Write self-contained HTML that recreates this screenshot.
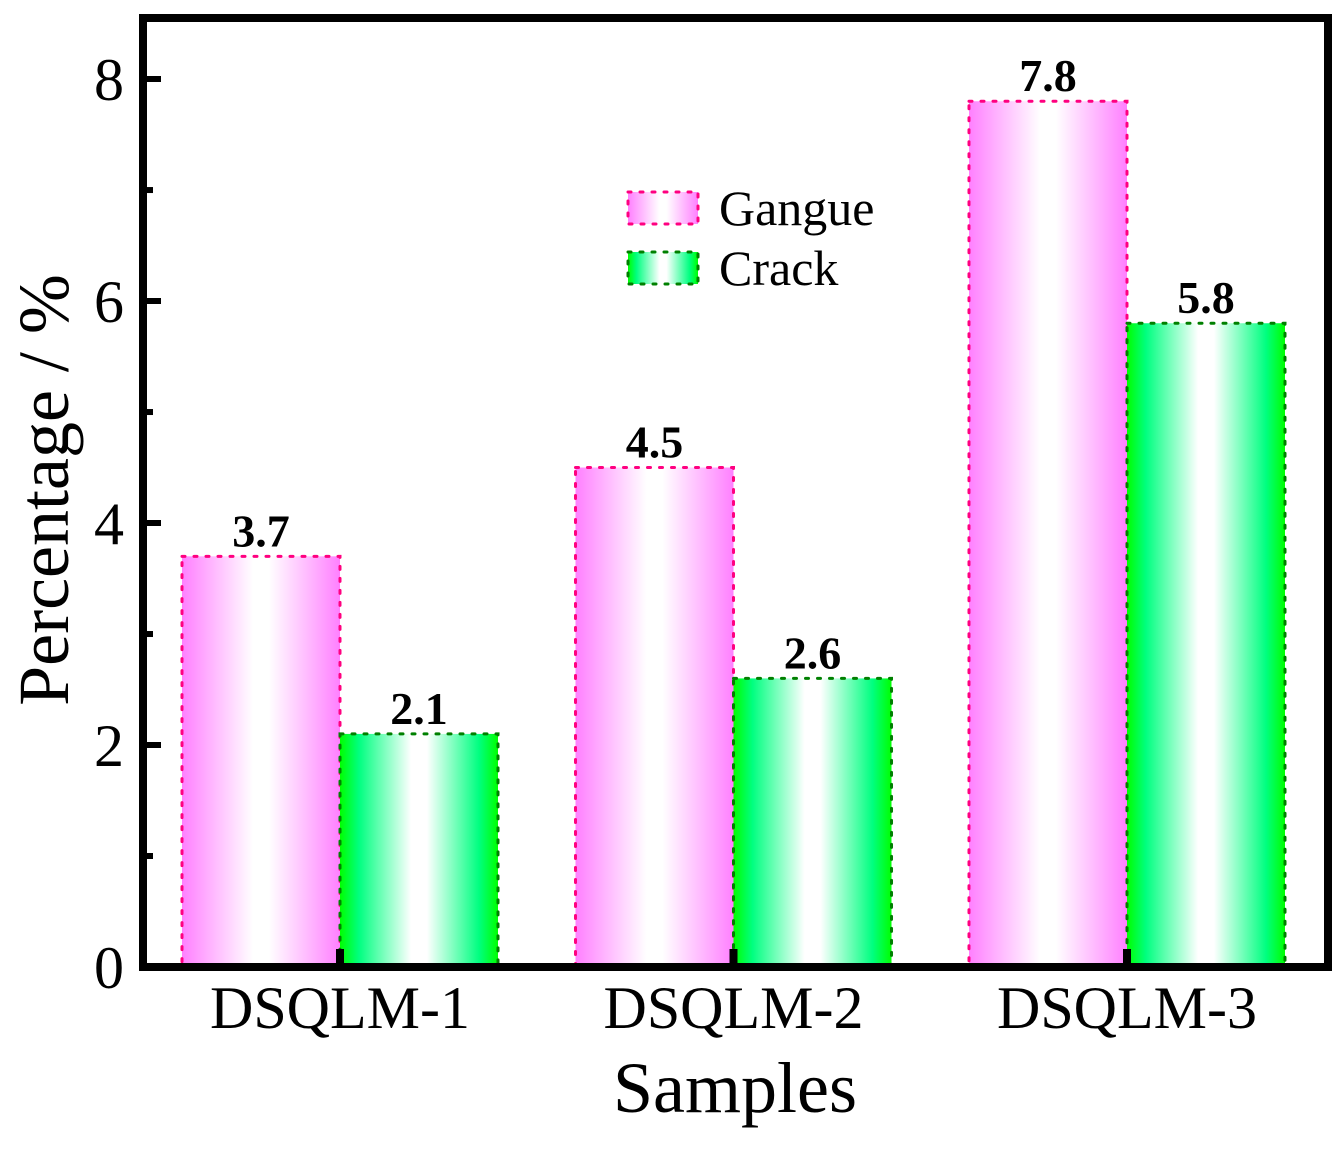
<!DOCTYPE html>
<html><head><meta charset="utf-8"><style>
body{margin:0;background:#fff}
svg{display:block;font-family:"Liberation Serif",serif}
text{font-family:"Liberation Serif",serif}
</style></head><body>
<svg id="c" width="1342" height="1149" viewBox="0 0 1342 1149" font-family="Liberation Serif, serif">
<defs>
<linearGradient id="gp" x1="0" x2="1"><stop offset="0" stop-color="#ff80ff"/><stop offset="0.45" stop-color="#fff"/><stop offset="0.55" stop-color="#fff"/><stop offset="1" stop-color="#ff80ff"/></linearGradient>
<linearGradient id="gg" x1="0" x2="1"><stop offset="0" stop-color="#00ff00"/><stop offset="0.12" stop-color="#00ff80"/><stop offset="0.45" stop-color="#fff"/><stop offset="0.55" stop-color="#fff"/><stop offset="0.88" stop-color="#00ff80"/><stop offset="1" stop-color="#00ff00"/></linearGradient>
</defs>
<g id="bars"></g>
<g id="axes"></g>
</svg>
<script>
const categories=["DSQLM-1","DSQLM-2","DSQLM-3"];
const gangue=[3.7,4.5,7.8];
const crack=[2.1,2.6,5.8];
const yTicks=[0,2,4,6,8];
const NS="http://www.w3.org/2000/svg";
const L=143,R=1328,T=18,B=967,yMax=8.55;
const y=v=>B-(v/yMax)*(B-T);
const cx=i=>340+i*393.5;
const bw=158;
function mk(t,a,p){const e=document.createElementNS(NS,t);for(const k in a)e.setAttribute(k,a[k]);if(t==='text')e.setAttribute('font-family','Liberation Serif, serif');(p||document.getElementById('c')).appendChild(e);return e;}
const bars=document.getElementById('bars'),axes=document.getElementById('axes');
categories.forEach((c,i)=>{
 [[gangue,'url(#gp)','#ff0080',-1,'gangue'],[crack,'url(#gg)','#008000',0,'crack']].forEach(s=>{
  const v=s[0][i],x=cx(i)+s[3]*bw;
  const r=mk('rect',{x:x,y:y(v),width:bw,height:B-y(v),fill:s[1],stroke:s[2],'stroke-width':3,'stroke-dasharray':'3 9','stroke-linecap':'round'},bars);
  
  
  const t=mk('text',{x:x+bw/2,y:y(v)-10,'text-anchor':'middle','font-size':46,'font-weight':'bold'},bars);
  t.textContent=v.toFixed(1);
  
  
 });
 const tk=mk('rect',{x:cx(i)-4,y:B-18,width:8,height:18,fill:'#000'},axes);
 
 
 const lb=mk('text',{x:cx(i),y:1028,'text-anchor':'middle','font-size':60},axes);
 lb.textContent=c;
 
 
});
const fr=mk('rect',{x:L,y:T,width:R-L,height:B-T,fill:'none',stroke:'#000','stroke-width':8},axes);


for(let v=0;v<=8;v+=1){
 const major=v%2===0;
 const l=mk('line',{x1:L,x2:L+(major?18:10),y1:y(v),y2:y(v),stroke:'#000','stroke-width':6},axes);
 
 
}
yTicks.forEach(v=>{
 const t=mk('text',{x:124,y:y(v)+21,'text-anchor':'end','font-size':60},axes);
 t.textContent=v;
 
 
});
const xt=mk('text',{x:735,y:1112,'text-anchor':'middle','font-size':72},axes);
xt.textContent='Samples';


const yt=mk('text',{x:0,y:0,'text-anchor':'middle','font-size':72,transform:'translate(68,490) rotate(-90)'},axes);
yt.textContent='Percentage / %';


[['Gangue','url(#gp)','#ff0080',208],['Crack','url(#gg)','#008000',268]].forEach(s=>{
 const r=mk('rect',{x:628,y:s[3]-16,width:70,height:32,fill:s[1],stroke:s[2],'stroke-width':3,'stroke-dasharray':'3 9','stroke-linecap':'round'},axes);
 
 
 const t=mk('text',{x:719,y:s[3]+17,'font-size':50},axes);
 t.textContent=s[0];
 
 
});
</script>
</body></html>
